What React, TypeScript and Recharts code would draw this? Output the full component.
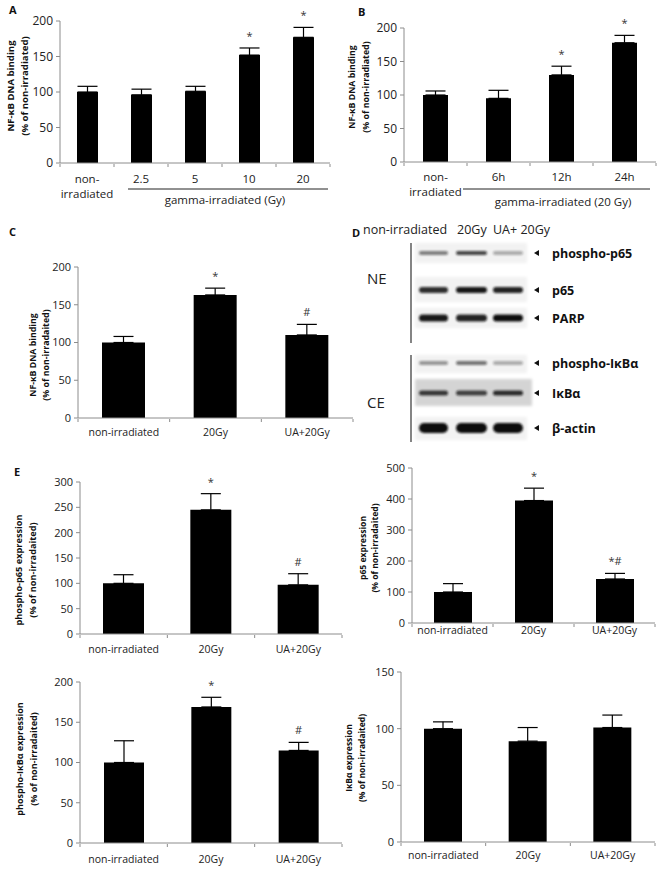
import React from "react";
import { BarChart, Bar, XAxis, YAxis, ErrorBar, LabelList } from "recharts";

const FONT = "'Open Sans', 'DejaVu Sans', sans-serif";
const AXIS = "#8c8c8c";
const INK = "#222";

// A: NF-kB binding vs dose
const doseLabels = ["non-\nirradiated", "2.5", "5", "10", "20"];
const doseValues = [100, 96, 101, 152, 177];
const doseErrors = [8, 8, 7, 10, 14];
const doseMarks = ["", "", "", "*", "*"];

// B: NF-kB binding vs time after 20 Gy
const timeLabels = ["non-\nirradiated", "6h", "12h", "24h"];
const timeValues = [100, 95, 130, 178];
const timeErrors = [6, 12, 13, 11];
const timeMarks = ["", "", "*", "*"];

const groupLabels = ["non-irradiated", "20Gy", "UA+20Gy"];

// C
const bindingValues = [100, 163, 110];
const bindingErrors = [8, 9, 14];
const bindingMarks = ["", "*", "#"];

// E
const pp65Values = [100, 245, 97];
const pp65Errors = [17, 32, 22];
const pp65Marks = ["", "*", "#"];

const p65Values = [100, 395, 142];
const p65Errors = [27, 40, 18];
const p65Marks = ["", "*", "*#"];

const pIkbValues = [100, 169, 115];
const pIkbErrors = [27, 12, 10];
const pIkbMarks = ["", "*", "#"];

const ikbValues = [100, 89, 101];
const ikbErrors = [6, 12, 11];
const ikbMarks = ["", "", ""];

// D: blot band intensities per row (lanes: non-irradiated, 20Gy, UA+20Gy)
const blotRows = ["phospho-p65", "p65", "PARP", "phospho-IκBα", "IκBα", "β-actin"];
const blotIntensity = [
  [0.5, 0.75, 0.3],
  [0.85, 0.95, 0.9],
  [0.95, 0.9, 1],
  [0.4, 0.55, 0.3],
  [0.8, 0.75, 0.85],
  [1, 1, 1],
];

const CatTick = (props: any) => {
  const { x, y, payload, fs, dy } = props;
  const lines = String(payload.value).split("\n");
  return (
    <text x={x} y={y} textAnchor="middle" fontSize={fs} fill={INK} fontFamily={FONT}>
      {lines.map((l, i) => (
        <tspan key={i} x={x} dy={i === 0 ? dy : fs * 1.3}>
          {l}
        </tspan>
      ))}
    </text>
  );
};

const NoTick = () => <g />;

const Panel = (p: any) => {
  const [L, T, R, B] = p.box;
  const padL = 40, padT = 30, padR = 6, padB = 45;
  const rows = p.labels.map((name: string, i: number) => ({
    name,
    value: p.values[i],
    err: [0, p.errors[i]],
    mark: p.marks[i],
    pos: i + 0.5,
  }));
  const yTicks: number[] = [];
  for (let v = 0; v <= p.yMax; v += p.yStep) yTicks.push(v);
  const edgeTicks = rows.map((_: any, i: number) => i).concat([rows.length]);

  const renderMark = (lp: any) => {
    const { x, y, width, height, index, value } = lp;
    if (!value) return null;
    const perUnit = height / p.values[index];
    const errTop = y - p.errors[index] * perUnit;
    return (
      <text x={x + width / 2} y={errTop - 8} textAnchor="middle" fontSize={11} fill="#333" fontFamily={FONT}>
        {value}
      </text>
    );
  };

  return (
    <div style={{ position: "absolute", left: L - padL, top: T - padT }}>
      <BarChart
        width={R - L + padL + padR}
        height={B - T + padT + padB}
        data={rows}
        margin={{ top: padT, right: padR, left: 0, bottom: 1 }}
      >
        <XAxis
          xAxisId="cat"
          dataKey="name"
          stroke={AXIS}
          tickLine={false}
          tickSize={0}
          tickMargin={0}
          height={1}
          interval={0}
          tick={(tp: any) => <CatTick {...tp} fs={p.tickFont} dy={p.labelDy} />}
        />
        <XAxis
          xAxisId="edge"
          type="number"
          dataKey="pos"
          domain={[0, rows.length]}
          ticks={edgeTicks}
          tick={NoTick}
          tickSize={3}
          height={padB - 2}
          axisLine={false}
          stroke={AXIS}
          allowDataOverflow
        />
        <YAxis
          domain={[0, p.yMax]}
          ticks={yTicks}
          width={padL}
          tickSize={4}
          tickMargin={3}
          stroke={AXIS}
          interval={0}
          tick={{ fill: INK, fontSize: p.yTickFont, fontFamily: FONT }}
        />
        <Bar xAxisId="cat" dataKey="value" fill="#000" barSize={p.barSize} isAnimationActive={false}>
          <ErrorBar dataKey="err" width={10} stroke="#000" strokeWidth={1.2} direction="y" />
          <LabelList dataKey="mark" content={renderMark} />
        </Bar>
      </BarChart>
    </div>
  );
};

const YLabel = ({ x1, x2, cy, fs, lines }: any) => (
  <g fontFamily={FONT} fontWeight="bold" fontSize={fs} fill="#111" textAnchor="middle">
    <text x={x1 + fs * 0.35} y={cy} transform={`rotate(-90 ${x1 + fs * 0.35} ${cy})`}>{lines[0]}</text>
    <text x={x2 + fs * 0.35} y={cy} transform={`rotate(-90 ${x2 + fs * 0.35} ${cy})`}>{lines[1]}</text>
  </g>
);

const Blot = () => {
  const bandY = [253, 290, 318, 363, 393, 428];
  const bandH = [4, 6, 7, 4, 5, 10];
  const boxTop = [243, 277, 308, 355, 379, 417];
  const boxBot = [263, 302, 328, 373, 406, 440];
  const laneX = [419, 456, 493];
  const laneW = [29, 31, 30];
  return (
    <g>
      <defs>
        <filter id="blur" x="-20%" y="-100%" width="140%" height="300%">
          <feGaussianBlur stdDeviation="1.3" />
        </filter>
        <filter id="soft" x="-5%" y="-20%" width="110%" height="140%">
          <feGaussianBlur stdDeviation="1.5" />
        </filter>
      </defs>
      <text x={352} y={237} fontFamily={FONT} fontWeight="bold" fontSize={11} fill="#111">D</text>
      <text x={363} y={234} fontFamily={FONT} fontSize={12.5} fill={INK}>non-irradiated</text>
      <text x={457} y={234} fontFamily={FONT} fontSize={12.5} fill={INK}>20Gy</text>
      <text x={493} y={234} fontFamily={FONT} fontSize={12.5} fill={INK}>UA+ 20Gy</text>
      <line x1={411} y1={243} x2={411} y2={343} stroke="#333" strokeWidth={1.2} />
      <line x1={411} y1={355} x2={411} y2={442} stroke="#333" strokeWidth={1.2} />
      <text x={367} y={284} fontFamily={FONT} fontSize={15} fill={INK}>NE</text>
      <text x={367} y={408} fontFamily={FONT} fontSize={15} fill={INK}>CE</text>
      {blotRows.map((name, r) => (
        <g key={name}>
          <rect
            x={415}
            y={boxTop[r]}
            width={r === 4 ? 117 : 112}
            height={boxBot[r] - boxTop[r]}
            fill={r === 4 ? "#d4d4d4" : "#f2f2f2"}
            filter="url(#soft)"
          />
          {laneX.map((lx, j) => (
            <rect
              key={j}
              x={lx}
              y={bandY[r] - bandH[r] / 2}
              width={laneW[j]}
              height={bandH[r]}
              rx={bandH[r] / 2}
              fill="#111"
              opacity={blotIntensity[r][j]}
              filter="url(#blur)"
            />
          ))}
          <polygon
            points={`539,${bandY[r] - 3} 539,${bandY[r] + 3} 534,${bandY[r]}`}
            fill="#111"
          />
          <text x={552} y={bandY[r] + 4.5} fontFamily={FONT} fontWeight="bold" fontSize={12.5} fill="#111">
            {name}
          </text>
        </g>
      ))}
    </g>
  );
};

const App = () => (
  <div style={{ position: "absolute", left: 0, top: 0, width: 661, height: 870, background: "#fff", overflow: "hidden" }}>
    <Panel box={[60, 21, 330, 163]} labels={doseLabels} values={doseValues} errors={doseErrors} marks={doseMarks}
      yMax={200} yStep={50} barSize={21} tickFont={11.5} yTickFont={12} labelDy={20} />
    <Panel box={[404, 28, 656, 162]} labels={timeLabels} values={timeValues} errors={timeErrors} marks={timeMarks}
      yMax={200} yStep={50} barSize={25} tickFont={11.5} yTickFont={12} labelDy={19} />
    <Panel box={[78, 267, 353, 418]} labels={groupLabels} values={bindingValues} errors={bindingErrors} marks={bindingMarks}
      yMax={200} yStep={50} barSize={43} tickFont={10.5} yTickFont={11} labelDy={18} />
    <Panel box={[80, 482, 342, 634]} labels={groupLabels} values={pp65Values} errors={pp65Errors} marks={pp65Marks}
      yMax={300} yStep={50} barSize={41} tickFont={10.5} yTickFont={11} labelDy={19} />
    <Panel box={[412, 468, 655, 623]} labels={groupLabels} values={p65Values} errors={p65Errors} marks={p65Marks}
      yMax={500} yStep={100} barSize={38} tickFont={10.5} yTickFont={11} labelDy={11} />
    <Panel box={[80, 682, 342, 843]} labels={groupLabels} values={pIkbValues} errors={pIkbErrors} marks={pIkbMarks}
      yMax={200} yStep={50} barSize={40} tickFont={10.5} yTickFont={11} labelDy={20} />
    <Panel box={[401, 672, 655, 842]} labels={groupLabels} values={ikbValues} errors={ikbErrors} marks={ikbMarks}
      yMax={150} yStep={50} barSize={38} tickFont={10.5} yTickFont={11} labelDy={17} />

    <svg width={661} height={870} style={{ position: "absolute", left: 0, top: 0, pointerEvents: "none" }}>
      <g fontFamily={FONT} fontWeight="bold" fontSize={11} fill="#111">
        <text x={9} y={14}>A</text>
        <text x={358} y={16}>B</text>
        <text x={9} y={236}>C</text>
        <text x={14} y={476}>E</text>
      </g>
      <YLabel x1={11} x2={25} cy={86} fs={9.6} lines={["NF-κB DNA binding", "(% of non-irradiated)"]} />
      <YLabel x1={352} x2={366} cy={87} fs={8.8} lines={["NF-κB DNA binding", "(% of non-irradiated)"]} />
      <YLabel x1={33} x2={46} cy={355} fs={8.8} lines={["NF-κB DNA binding", "(% of non-irradaited)"]} />
      <YLabel x1={19} x2={33} cy={570} fs={9.2} lines={["phospho-p65 expression", "(% of non-irradaited)"]} />
      <YLabel x1={363} x2={375} cy={548} fs={8.6} lines={["p65 expression", "(% of non-irradaited)"]} />
      <YLabel x1={20} x2={34} cy={759} fs={9} lines={["phospho-IκBα expression", "(% of non-irradaited)"]} />
      <YLabel x1={349} x2={362} cy={758} fs={8.5} lines={["IκBα expression", "(% of non-irradaited)"]} />

      <line x1={128} y1={189} x2={328} y2={189} stroke="#222" strokeWidth={1} />
      <text x={225} y={204} textAnchor="middle" fontFamily={FONT} fontSize={11.5} fill={INK}>gamma-irradiated (Gy)</text>
      <line x1={463} y1={189} x2={650} y2={189} stroke="#222" strokeWidth={1} />
      <text x={563} y={206} textAnchor="middle" fontFamily={FONT} fontSize={11.5} fill={INK}>gamma-irradiated (20 Gy)</text>

      <Blot />
    </svg>
  </div>
);

export default App;
